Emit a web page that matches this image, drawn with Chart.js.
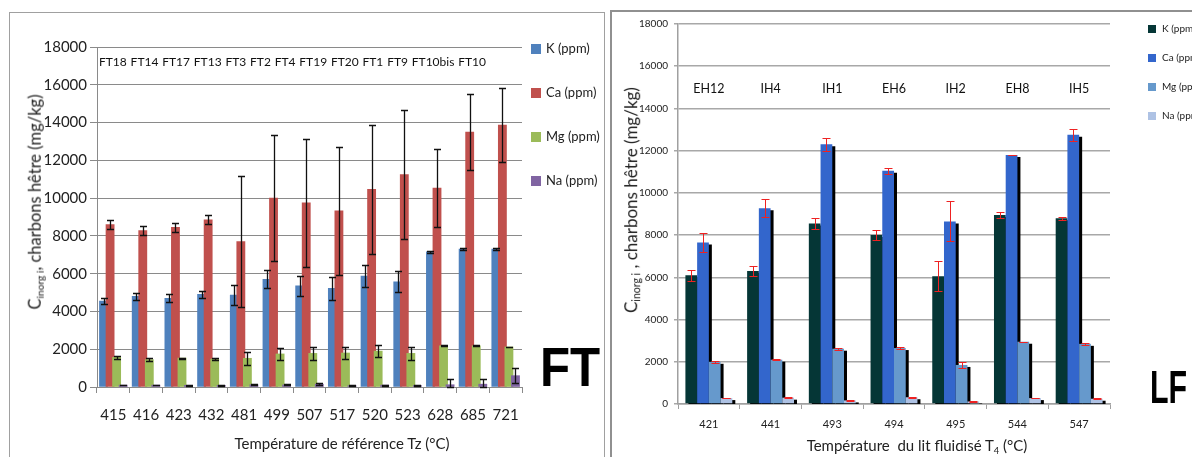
<!DOCTYPE html>
<html>
<head>
<meta charset="utf-8">
<script src="https://cdn.jsdelivr.net/npm/chart.js@4.4.1/dist/chart.umd.min.js"></script>
<style>
  html, body { margin: 0; padding: 0; background: #fff; width: 1192px; height: 457px; overflow: hidden; }
  .panel { position: absolute; box-sizing: border-box; background: #fff; }
  #ftPanel { left: 9px; top: 12px; width: 596px; height: 470px; border: 1px solid #a0a0a0; }
  #lfPanel { left: 610px; top: 10px; width: 620px; height: 470px; border: 2px solid #909090; }
  canvas { position: absolute; }
  #ftChart { left: 11px; top: 13px; }
  #lfChart { left: 611px; top: 12px; }
  .txt { position: absolute; white-space: nowrap; font-family: Lato, sans-serif; color: #222; }
  .rot { transform: translate(-50%, -50%) rotate(-90deg); }
  .mid { transform: translate(-50%, -50%); }
  .big { font-family: "Liberation Sans", Arial, sans-serif; font-weight: bold; color: #000; transform-origin: left top; }
  sub { font-size: 62%; vertical-align: -0.25em; }
</style>
</head>
<body>
<div class="panel" id="ftPanel"></div>
<div class="panel" id="lfPanel"></div>
<canvas id="ftChart" width="592" height="444"></canvas>
<canvas id="lfChart" width="600" height="445"></canvas>

<div class="txt rot" style="left:35px; top:202px; font-size:16.5px;">C<sub>inorg i</sub>, charbons hêtre (mg/kg)</div>
<div class="txt mid" style="left:342px; top:443px; font-size:15px;">Température de référence Tz (°C)</div>
<div class="txt big" style="left:540px; top:339px; font-size:56px; line-height:56px; transform:scaleX(0.88);">FT</div>

<div class="txt rot" style="left:631px; top:200px; font-size:17px;">C<sub>inorg i</sub> , charbons hêtre (mg/kg)</div>
<div class="txt mid" style="left:917px; top:446px; font-size:15px;">Température &nbsp;du lit fluidisé T<sub>4</sub> (°C)</div>
<div class="txt big" style="left:1150px; top:364px; font-size:46px; line-height:46px; transform:scaleX(0.66);">LF</div>

<script>
// ---- FT (fixed bed) ----
const ftTemps = ['415', '416', '423', '432', '481', '499', '507', '517', '520', '523', '628', '685', '721'];
const ftCodes = ['FT18', 'FT14', 'FT17', 'FT13', 'FT3', 'FT2', 'FT4', 'FT19', 'FT20', 'FT1', 'FT9', 'FT10bis', 'FT10'];
const ftK     = [4550, 4800, 4700, 4900, 4870, 5700, 5350, 5220, 5870, 5570, 7150, 7300, 7300];
const ftKErr  = [180, 200, 200, 200, 550, 470, 550, 600, 600, 560, 60, 60, 60];
const ftCa    = [8600, 8280, 8450, 8850, 7700, 10000, 9750, 9330, 10460, 11250, 10530, 13500, 13870];
const ftCaErr = [250, 230, 220, 230, 3450, 3350, 3400, 3400, 3400, 3400, 2050, 2000, 1950];
const ftMg    = [1570, 1450, 1530, 1480, 1520, 1750, 1780, 1800, 1900, 1780, 2180, 2180, 2120];
const ftMgErr = [80, 60, 30, 70, 330, 300, 350, 300, 330, 340, 20, 20, 20];
const ftNa    = [100, 100, 90, 90, 120, 110, 150, 70, 100, 80, 120, 150, 600];
const ftNaErr = [20, 20, 20, 20, 30, 30, 60, 20, 30, 20, 300, 300, 380];

// ---- LF (fluidised bed) ----
const lfTemps = ['421', '441', '493', '494', '495', '544', '547'];
const lfCodes = ['EH12', 'IH4', 'IH1', 'EH6', 'IH2', 'EH8', 'IH5'];
const lfK     = [6100, 6300, 8550, 8000, 6050, 8950, 8800];
const lfKErr  = [260, 250, 250, 250, 720, 160, 80];
const lfCa    = [7650, 9270, 12300, 11050, 8650, 11800, 12750];
const lfCaErr = [450, 430, 320, 140, 950, 10, 270];
const lfMg    = [2000, 2100, 2620, 2650, 1850, 2950, 2850];
const lfMgErr = [40, 30, 40, 50, 150, 10, 50];
const lfNa    = [280, 300, 170, 320, 120, 280, 250];
const lfNaErr = [15, 15, 40, 25, 15, 15, 15];

const seriesNames = ['K (ppm)', 'Ca (ppm)', 'Mg (ppm)', 'Na (ppm)'];

// draw datasets first-to-last so later series sit on top (optionally with a hard shadow)
const drawInOrder = {
    id: 'drawInOrder',
    beforeDatasetsDraw(chart, args, o) {
        const ctx = chart.ctx;
        const a = chart.chartArea;
        chart.data.datasets.forEach((ds, i) => {
            const meta = chart.getDatasetMeta(i);
            ctx.save();
            ctx.beginPath();
            ctx.rect(a.left, a.top - 20, a.right - a.left + 10, a.bottom - a.top + 20);
            ctx.clip();
            if (o.shadow) {
                ctx.shadowColor = '#000';
                ctx.shadowOffsetX = 3;
                ctx.shadowOffsetY = 2;
                ctx.shadowBlur = 0;
            }
            meta.controller.draw();
            ctx.restore();
        });
        return false;
    }
};

const errorBars = {
    id: 'errorBars',
    afterDraw(chart, args, o) {
        const ctx = chart.ctx;
        const y = chart.scales.y;
        ctx.save();
        ctx.strokeStyle = o.color;
        ctx.lineWidth = o.width;
        chart.data.datasets.forEach((ds, i) => {
            chart.getDatasetMeta(i).data.forEach((bar, j) => {
                const v = ds.data[j], e = ds.errors[j];
                const x = Math.round(bar.x) + 0.5;
                const yt = Math.round(y.getPixelForValue(v + e)) + 0.5;
                const yb = Math.round(y.getPixelForValue(Math.max(0, v - e))) + 0.5;
                ctx.beginPath();
                ctx.moveTo(x, yt); ctx.lineTo(x, yb);
                ctx.moveTo(x - o.cap, yt); ctx.lineTo(x + o.cap, yt);
                ctx.moveTo(x - o.cap, yb); ctx.lineTo(x + o.cap, yb);
                ctx.stroke();
            });
        });
        ctx.restore();
    }
};

const codeLabels = {
    id: 'codeLabels',
    afterDraw(chart, args, o) {
        const ctx = chart.ctx;
        const xs = chart.scales.x;
        const yy = chart.scales.y.getPixelForValue(o.at);
        ctx.save();
        ctx.font = o.font;
        ctx.fillStyle = '#111';
        ctx.textBaseline = 'middle';
        if (o.row) {
            // one line of text, like the text box in the original
            const start = chart.chartArea.left + 2;
            const end = xs.getPixelForValue(o.labels.length - 2) + 13;
            const widths = o.labels.map(t => ctx.measureText(t).width);
            const gap = (end - start - widths.reduce((s, w) => s + w, 0)) / (o.labels.length - 1);
            let x = start;
            ctx.textAlign = 'left';
            o.labels.forEach((t, i) => { ctx.fillText(t, x, yy); x += widths[i] + gap; });
        } else {
            ctx.textAlign = 'center';
            o.labels.forEach((t, i) => ctx.fillText(t, xs.getPixelForValue(i), yy));
        }
        ctx.restore();
    }
};

const sideLegend = {
    id: 'sideLegend',
    afterDraw(chart, args, o) {
        const ctx = chart.ctx;
        ctx.save();
        ctx.font = o.font;
        ctx.textBaseline = 'middle';
        ctx.textAlign = 'left';
        chart.data.datasets.forEach((ds, i) => {
            const y = o.top + i * o.step;
            ctx.fillStyle = ds.backgroundColor;
            ctx.fillRect(o.left, y - o.box / 2, o.box, o.box);
            ctx.fillStyle = '#222';
            ctx.fillText(ds.label, o.left + o.box + o.gap, y);
        });
        ctx.restore();
    }
};

function makeSets(values, errors, colors, barPct) {
    return values.map((v, i) => ({
        label: seriesNames[i],
        data: v,
        errors: errors[i],
        backgroundColor: colors[i],
        borderWidth: 0,
        categoryPercentage: barPct[0],
        barPercentage: barPct[1]
    }));
}

const plainTick = v => String(v);

new Chart(document.getElementById('ftChart'), {
    type: 'bar',
    data: {
        labels: ftTemps,
        datasets: makeSets([ftK, ftCa, ftMg, ftNa], [ftKErr, ftCaErr, ftMgErr, ftNaErr],
            ['#4f81bd', '#c0504d', '#9bbb59', '#8064a2'], [0.8, 1.25])
    },
    options: {
        responsive: false,
        animation: false,
        devicePixelRatio: 1,
        layout: { padding: { left: 0, top: 34, right: 81, bottom: 0 } },
        plugins: {
            legend: { display: false },
            tooltip: { enabled: false },
            errorBars: { color: '#111', width: 1.3, cap: 3.5 },
            codeLabels: { labels: ftCodes, at: 17200, font: '12px Lato', row: true },
            sideLegend: { left: 520, top: 36, step: 44, box: 10, gap: 5, font: '13px Lato' },
            drawInOrder: { shadow: false }
        },
        scales: {
            x: {
                grid: { display: true, drawOnChartArea: false, tickLength: 6, color: '#8a8a8a' },
                border: { color: '#8a8a8a' },
                ticks: { color: '#222', font: { family: 'Lato', size: 15 }, padding: 13 },
                afterFit(s) { s.height = 70; }
            },
            y: {
                min: 0, max: 18000,
                grid: { color: '#8a8a8a', tickLength: 7 },
                border: { color: '#8a8a8a' },
                ticks: { stepSize: 2000, color: '#222', font: { family: 'Lato', size: 15 }, padding: 3, callback: plainTick },
                afterFit(s) { s.width = 86; }
            }
        }
    },
    plugins: [drawInOrder, errorBars, codeLabels, sideLegend]
});

new Chart(document.getElementById('lfChart'), {
    type: 'bar',
    data: {
        labels: lfTemps,
        datasets: makeSets([lfK, lfCa, lfMg, lfNa], [lfKErr, lfCaErr, lfMgErr, lfNaErr],
            ['#053636', '#3366cc', '#6699cc', '#aec2e4'], [0.76, 1.0])
    },
    options: {
        responsive: false,
        animation: false,
        devicePixelRatio: 1,
        layout: { padding: { left: 0, top: 11, right: 101, bottom: 0 } },
        plugins: {
            legend: { display: false },
            tooltip: { enabled: false },
            errorBars: { color: '#ee2222', width: 1, cap: 4 },
            codeLabels: { labels: lfCodes, at: 14900, font: '12.5px Lato', row: false },
            sideLegend: { left: 537, top: 17, step: 29, box: 8, gap: 6, font: '10px Lato' },
            drawInOrder: { shadow: true }
        },
        scales: {
            x: {
                grid: { display: true, drawOnChartArea: false, tickLength: 5, color: '#a0a0a0' },
                border: { color: '#a0a0a0', width: 1.5 },
                ticks: { color: '#222', font: { family: 'Lato', size: 11 }, padding: 9 },
                afterFit(s) { s.height = 53; }
            },
            y: {
                min: 0, max: 18000,
                grid: { color: '#a8a8a8', lineWidth: 1.5, tickLength: 4 },
                border: { color: '#a0a0a0', width: 1.5 },
                ticks: { stepSize: 2000, color: '#222', font: { family: 'Lato', size: 10 }, padding: 6, callback: plainTick },
                afterFit(s) { s.width = 67; }
            }
        }
    },
    plugins: [drawInOrder, errorBars, codeLabels, sideLegend]
});
</script>
</body>
</html>
